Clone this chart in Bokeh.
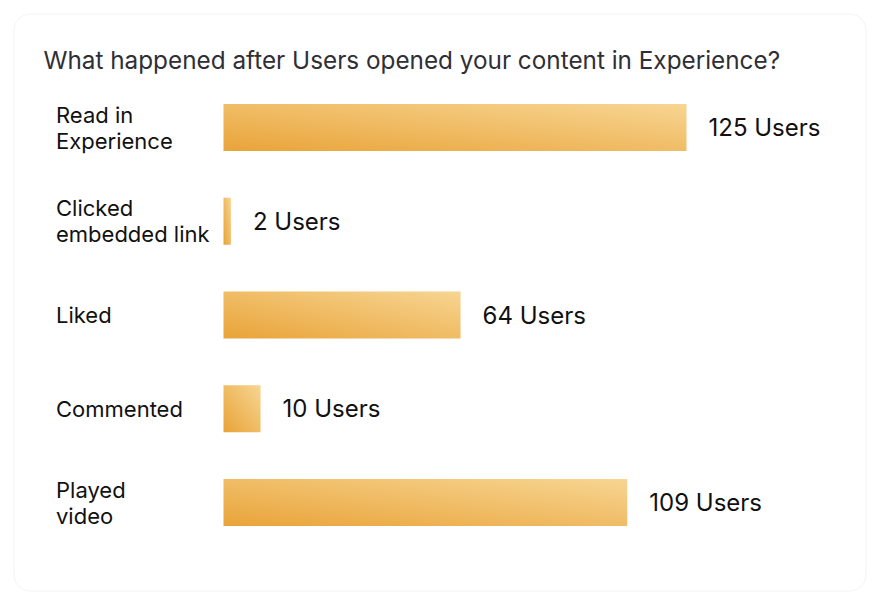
import numpy as np
from bokeh.plotting import figure
from bokeh.models import Range1d, BoxAnnotation, ColumnDataSource
from bokeh.core.properties import value
from bokeh.embed import file_html
from bokeh.resources import INLINE

# ---- data ----
title = "What happened after Users opened your content in Experience?"
categories = ["Read in\nExperience", "Clicked\nembedded link", "Liked", "Commented", "Played\nvideo"]
users = [125, 2, 64, 10, 109]
unit = "Users"

# ---- layout (pixel geometry of the card) ----
W, H = 880, 604
X0 = 223.0            # pixel where value 0 sits
XS = 463.0 / 125.0    # pixels per user
Y0 = 502.0            # pixel centre of the last row
YS = 93.75            # pixels between rows
BAR_PX = 47


def xd(px):
    return (px - X0) / XS


def yd(py):
    return (Y0 - py) / YS


n = len(categories)
ypos = [n - 1 - i for i in range(n)]
bar_h = BAR_PX / YS

p = figure(width=W, height=H,
           x_range=Range1d(xd(0), xd(W)), y_range=Range1d(yd(H), yd(0)),
           output_backend="svg", toolbar_location=None, min_border=0,
           x_axis_location=None, y_axis_location=None)
p.grid.visible = False
p.outline_line_color = None
p.background_fill_color = "white"
p.border_fill_color = "white"

card = BoxAnnotation(left=xd(13.5), right=xd(865.5), top=yd(13.5), bottom=yd(590.5),
                     fill_color="white", fill_alpha=1.0, line_color="#d6d6d6",
                     line_width=1, border_radius=16, level="underlay")
p.add_layout(card)

# gradient bars ("to top right")
c0 = np.array([233, 164, 58], dtype=float)
c1 = np.array([247, 213, 146], dtype=float)
imgs, xs, ys, dws, dhs = [], [], [], [], []
for v, y in zip(users, ypos):
    w_px = max(2, int(round(v * XS)))
    h_px = BAR_PX
    u = np.linspace(0, 1, w_px)[None, :]
    vv = np.linspace(0, 1, h_px)[:, None]
    t = (u + vv) / 2.0
    rgb = c0 + (c1 - c0) * t[..., None]
    img = np.empty((h_px, w_px), dtype=np.uint32)
    view = img.view(dtype=np.uint8).reshape((h_px, w_px, 4))
    view[..., 0:3] = np.round(rgb).astype(np.uint8)
    view[..., 3] = 255
    imgs.append(img)
    xs.append(0)
    ys.append(y - bar_h / 2)
    dws.append(v)
    dhs.append(bar_h)

p.image_rgba(source=ColumnDataSource(dict(image=imgs, x=xs, y=ys, dw=dws, dh=dhs)),
             image="image", x="x", y="y", dw="dw", dh="dh")

font = value("Inter")

# category labels
p.text(x=[xd(55.5)] * n, y=ypos, text=categories, text_font=font, text_font_size="22px",
       text_baseline="middle", text_align="left", text_color="#111111", text_line_height=1.0)

# value labels
p.text(x=users, y=ypos, text=[f"{v} {unit}" for v in users], x_offset=22,
       text_font=font, text_font_size="24px", text_baseline="middle", text_align="left",
       text_color="#111111")

# title
p.text(x=[xd(43)], y=[yd(59)], text=[title], text_font=font, text_font_size="24.3px",
       text_baseline="middle", text_align="left", text_color="#2f2f35")

open("out.html", "w").write(file_html(p, INLINE))
